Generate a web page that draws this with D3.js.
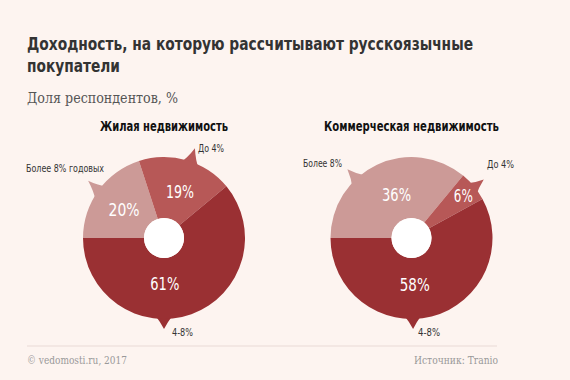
<!DOCTYPE html>
<html><head><meta charset="utf-8">
<script src="https://cdn.jsdelivr.net/npm/d3@7"></script>
<style>
html,body{margin:0;padding:0;background:#fdf4f0;}
svg{display:block;}
</style></head>
<body>
<svg id="chart" width="570" height="380"></svg>
<script>
// ---- data ----
const charts = ["Жилая недвижимость", "Коммерческая недвижимость"];
const categories = ["Более 8%", "До 4%", "4-8%"];
const residential = [20, 19, 61];
const commercial = [36, 6, 58];
const calloutLabelsResidential = ["Более 8% годовых", "До 4%", "4-8%"];
const calloutLabelsCommercial = ["Более 8%", "До 4%", "4-8%"];

// ---- layout / style ----
const W = 570, H = 380;
const colors = ["#cc9a97", "#b75857", "#9a3033"];
const condensed = "'DejaVu Sans Condensed','DejaVu Sans',sans-serif";
const serif = "'DejaVu Serif','Liberation Serif',Georgia,serif";
const R = 81, r0 = 20;
const centers = [[164, 238], [411.5, 238]];
const chartTitleWidths = [128, 175];
// tail layout: [base start deg, base end deg, tip deg, tip radius]
const tailLayout = [
  [[298, 312, 307, 95], [12, 27, 19, 95], [173, 187, 180, 91]],
  [[310, 324, 317, 94], [45, 57, 51, 93], [172, 186, 179, 91]]
];
// percentage label position [deg, radius, width]
const pctLayout = [
  [[305.5, 49, 31], [19, 49, 28], [179, 45.5, 29]],
  [[341, 46, 29], [50.7, 67, 19], [176, 47, 30]]
];
// callout label positions [x, y, width]
const calloutLayout = [
  [[26, 168, 78], [198, 148.5, 26], [172, 332.5, 21]],
  [[303, 163.5, 39], [487, 164, 27], [418, 332.5, 22]]
];

const svg = d3.select("#chart");
svg.append("rect").attr("width", W).attr("height", H).attr("fill", "#fdf4f0");

function fitText(sel, w) {
  return sel.attr("textLength", w).attr("lengthAdjust", "spacingAndGlyphs");
}

// title
fitText(svg.append("text").attr("x", 27).attr("y", 50).attr("font-family", condensed)
  .attr("font-weight", "bold").attr("font-size", 18.5).attr("fill", "#333")
  .text("Доходность, на которую рассчитывают русскоязычные"), 446);
fitText(svg.append("text").attr("x", 27).attr("y", 72).attr("font-family", condensed)
  .attr("font-weight", "bold").attr("font-size", 18.5).attr("fill", "#333")
  .text("покупатели"), 93);

fitText(svg.append("text").attr("x", 27).attr("y", 103).attr("font-family", serif)
  .attr("font-size", 15).attr("fill", "#555").text("Доля респондентов, %"), 151);

const pie = d3.pie().sort(null).startAngle(-Math.PI / 2).endAngle(3 * Math.PI / 2);
const arc = d3.arc().innerRadius(r0).outerRadius(R);
const rad = d => d * Math.PI / 180;
const pt = (deg, rr) => [rr * Math.sin(rad(deg)), -rr * Math.cos(rad(deg))];

[residential, commercial].forEach((vals, ci) => {
  const [cx, cy] = centers[ci];
  const g = svg.append("g").attr("transform", `translate(${cx},${cy})`);
  const arcs = pie(vals);

  // tails
  arcs.forEach((a, i) => {
    const [s, e, t, tr] = tailLayout[ci][i];
    const p1 = pt(s, R - 4), p2 = pt(e, R - 4), tip = pt(t, tr);
    const c1 = pt((s + t) / 2 + 1, R + 3), c2 = pt((e + t) / 2 - 1, R + 3);
    g.append("path")
      .attr("d", `M${p1}Q${c1} ${tip}Q${c2} ${p2}Z`)
      .attr("fill", colors[i]);
  });

  g.selectAll("path.slice").data(arcs).join("path")
    .attr("class", "slice")
    .attr("d", arc)
    .attr("fill", (d, i) => colors[i]);

  g.append("circle").attr("r", r0).attr("fill", "#fff");

  // pct labels
  arcs.forEach((a, i) => {
    const [deg, lr, w] = pctLayout[ci][i];
    const [x, y] = pt(deg, lr);
    fitText(g.append("text").attr("x", x - w / 2).attr("y", y).attr("dy", "0.36em")
      .attr("font-family", condensed)
      .attr("font-size", 18).attr("fill", "#fff").text(a.data + "%"), w);
  });

  // chart title
  fitText(svg.append("text").attr("x", cx - chartTitleWidths[ci] / 2).attr("y", 131)
    .attr("font-family", condensed).attr("font-weight", "bold").attr("font-size", 14)
    .attr("fill", "#111").text(charts[ci]), chartTitleWidths[ci]);

  // callout labels
  const labs = ci === 0 ? calloutLabelsResidential : calloutLabelsCommercial;
  labs.forEach((t, i) => {
    const [x, y, w] = calloutLayout[ci][i];
    fitText(svg.append("text").attr("x", x).attr("y", y).attr("dy", "0.36em")
      .attr("font-family", condensed)
      .attr("font-size", 11).attr("fill", "#333").text(t), w);
  });
});

// footer
svg.append("line").attr("x1", 27).attr("x2", 497).attr("y1", 346).attr("y2", 346)
  .attr("stroke", "#efe3df").attr("stroke-width", 1.5);
fitText(svg.append("text").attr("x", 27).attr("y", 364).attr("font-family", serif)
  .attr("font-size", 11).attr("fill", "#999").text("© vedomosti.ru, 2017"), 100);
fitText(svg.append("text").attr("x", 414).attr("y", 364).attr("font-family", serif)
  .attr("font-size", 11).attr("fill", "#999").text("Источник: Tranio"), 84);
</script>
</body></html>
